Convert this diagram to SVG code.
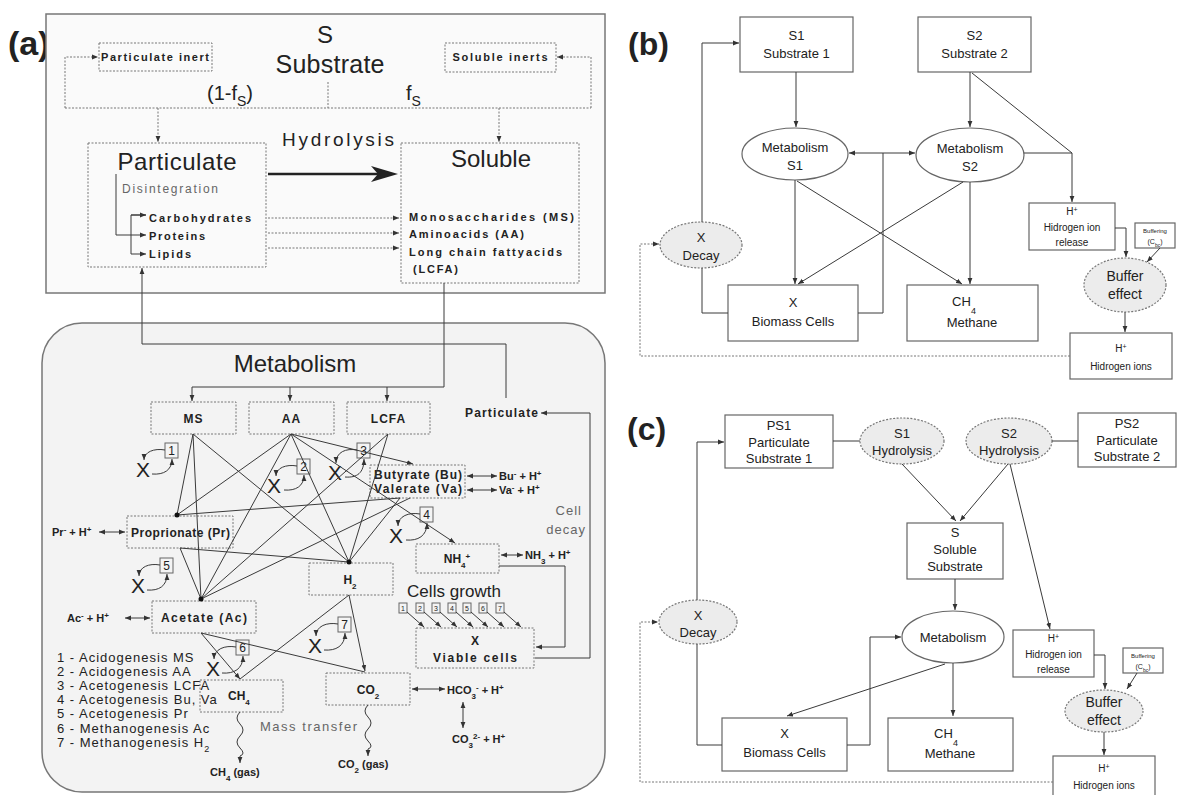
<svg xmlns="http://www.w3.org/2000/svg" width="1177" height="795" viewBox="0 0 1177 795">
<defs>
<style>
text{font-family:"Liberation Sans",Arial,sans-serif;fill:#222}
.b{font-weight:bold}
.c{text-anchor:middle}
.g{fill:#666}
.dot{fill:none;stroke:#777;stroke-width:1;stroke-dasharray:2 1.5}
.dbox{fill:none;stroke:#777;stroke-width:1;stroke-dasharray:2 1.5}
.ln{fill:none;stroke:#3a3a3a;stroke-width:1}
.box{fill:#fff;stroke:#666;stroke-width:1.2}
.ell{fill:#fff;stroke:#666;stroke-width:1.2}
.dell{fill:#ececec;stroke:#777;stroke-width:1.2;stroke-dasharray:2 1.5}
.nb{fill:#f4f4f4;stroke:#666;stroke-width:1}
.s13{font-size:13px}
.s10{font-size:10px}
</style>
<marker id="ah" viewBox="0 0 10 10" refX="10" refY="5" markerWidth="6" markerHeight="6" orient="auto-start-reverse"><path d="M0,1 L10,5 L0,9 z" fill="#333"/></marker>
</defs>
<rect width="1177" height="795" fill="#fff"/>

<!-- ===== Panel (a) ===== -->
<g id="panel-a">
<text x="8" y="55" font-size="34" class="b" fill="#111">(a)</text>
<rect x="46" y="14" width="559" height="279" fill="#fafafa" stroke="#777" stroke-width="1.5"/>
<rect x="42" y="323" width="563" height="469" rx="40" fill="#f3f3f3" stroke="#777" stroke-width="1.5"/>
</g>

<g id="substrate">
<text x="325" y="43" font-size="24" class="c">S</text>
<text x="330" y="73" font-size="25" class="c" textLength="109">Substrate</text>
<text x="207" y="100" font-size="20">(1-f<tspan font-size="14" baseline-shift="-6">S</tspan>)</text>
<text x="406" y="100" font-size="20">f<tspan font-size="14" baseline-shift="-6">S</tspan></text>
</g>
<g id="particulate-inert">
<rect x="99" y="43" width="113" height="28" class="dbox"/>
<text x="155" y="61" font-size="11" class="b c" textLength="108">Particulate inert</text>
</g>
<g id="soluble-inerts">
<rect x="445" y="43" width="111" height="29" class="dbox"/>
<text x="500" y="61" font-size="11" class="b c" textLength="95">Soluble inerts</text>
</g>
<g id="particulate">
<rect x="88" y="143" width="178" height="124" class="dbox"/>
<text x="177" y="170" font-size="24" class="c" textLength="119">Particulate</text>
<text x="122" y="193" font-size="12" class="g" textLength="96">Disintegration</text>
<text x="149" y="222" font-size="11" class="b" textLength="102">Carbohydrates</text>
<text x="149" y="240" font-size="11" class="b" textLength="56">Proteins</text>
<text x="149" y="258" font-size="11" class="b" textLength="42">Lipids</text>
<path class="ln" stroke="#555" d="M116,174 V235 H146" marker-end="url(#ah)"/>
<path class="ln" stroke="#555" d="M146,215 H131 V254 H146" marker-end="url(#ah)"/>
<path class="ln" stroke="#555" d="M131,215 H146" marker-end="url(#ah)"/>
</g>
<g id="soluble">
<rect x="401" y="143" width="178" height="140" class="dbox"/>
<text x="491" y="167" font-size="24" class="c">Soluble</text>
<text x="409" y="221" font-size="11" class="b" textLength="165">Monosaccharides (MS)</text>
<text x="409" y="238" font-size="11" class="b" textLength="115">Aminoacids (AA)</text>
<text x="409" y="256" font-size="11" class="b" textLength="153">Long chain fattyacids</text>
<text x="413" y="273" font-size="11" class="b" textLength="45">(LCFA)</text>
</g>
<g id="hydrolysis">
<text x="338" y="146" font-size="19" class="c" textLength="112">Hydrolysis</text>
<line x1="268" y1="174" x2="380" y2="174" stroke="#222" stroke-width="2.5"/>
<polygon points="398,174 371,166 378,174 371,182" fill="#222"/>
</g>

<g id="connectors-a-top">
<path class="dot" d="M328,82 V108"/>
<path class="dot" d="M65,108 H591"/>
<path class="dot" d="M65,108 V57 H98" marker-end="url(#ah)"/>
<path class="dot" d="M591,108 V57 H557" marker-end="url(#ah)"/>
<path class="dot" d="M158,108 V142" marker-end="url(#ah)"/>
<path class="dot" d="M499,108 V142" marker-end="url(#ah)"/>
<path class="dot" d="M268,218 H399" marker-end="url(#ah)"/>
<path class="dot" d="M268,233 H399" marker-end="url(#ah)"/>
<path class="dot" d="M268,248 H399" marker-end="url(#ah)"/>
<path class="ln" d="M506,398 V344 H142 V268" marker-end="url(#ah)"/>
<path class="ln" d="M444,283 V387 H192 V401" marker-end="url(#ah)"/>
<path class="ln" d="M290,387 V401" marker-end="url(#ah)"/>
<path class="ln" d="M387,387 V401" marker-end="url(#ah)"/>
</g>

<!-- Metabolism -->
<g id="metabolism-title"><text x="295" y="372" font-size="24" class="c">Metabolism</text></g>
<g id="ms"><rect x="151" y="402" width="85" height="32" class="dbox"/><text x="193.5" y="423" font-size="12" class="b c" letter-spacing="1">MS</text></g>
<g id="aa"><rect x="249" y="402" width="85" height="32" class="dbox"/><text x="291.5" y="423" font-size="12" class="b c" letter-spacing="1">AA</text></g>
<g id="lcfa"><rect x="347" y="402" width="83" height="32" class="dbox"/><text x="388.5" y="423" font-size="12" class="b c" letter-spacing="1">LCFA</text></g>
<g id="particulate-m"><text x="465" y="417" font-size="12" class="b" textLength="73">Particulate</text></g>
<g id="butyrate">
<rect x="370" y="465" width="95" height="33" class="dbox"/>
<text x="374" y="479" font-size="12" class="b" textLength="88">Butyrate (Bu)</text>
<text x="374" y="493" font-size="12" class="b" textLength="88">Valerate (Va)</text>
<text x="499" y="480" font-size="11" class="b">Bu<tspan font-size="8" baseline-shift="super">-</tspan> + H<tspan font-size="8" baseline-shift="super">+</tspan></text>
<text x="499" y="494" font-size="11" class="b">Va<tspan font-size="8" baseline-shift="super">-</tspan> + H<tspan font-size="8" baseline-shift="super">+</tspan></text>
</g>
<g id="cell-decay"><text x="582" y="515" font-size="13" class="g" text-anchor="end" letter-spacing="1">Cell</text><text x="586" y="534" font-size="13" class="g" text-anchor="end" letter-spacing="1">decay</text></g>
<g id="proprionate">
<rect x="127" y="516" width="106" height="32" class="dbox"/>
<text x="131" y="537" font-size="12" class="b" textLength="99">Proprionate (Pr)</text>
<text x="52" y="536" font-size="11" class="b">Pr<tspan font-size="8" baseline-shift="super">-</tspan> + H<tspan font-size="8" baseline-shift="super">+</tspan></text>
</g>
<g id="nh4">
<rect x="416" y="544" width="83" height="29" class="dbox"/>
<text x="457" y="563" font-size="12" class="b c">NH<tspan font-size="8" baseline-shift="sub">4</tspan><tspan font-size="8" baseline-shift="super">+</tspan></text>
<text x="525" y="559" font-size="11" class="b">NH<tspan font-size="8" baseline-shift="sub">3</tspan> + H<tspan font-size="8" baseline-shift="super">+</tspan></text>
</g>
<g id="h2"><rect x="309" y="563" width="84" height="32" class="dbox"/><text x="350" y="584" font-size="12" class="b c">H<tspan font-size="8" baseline-shift="sub">2</tspan></text></g>
<g id="cells-growth">
<text x="407" y="597" font-size="17" fill="#444" textLength="94">Cells growth</text>
<g font-size="7" class="c">
<rect x="399" y="603" width="8" height="10" class="nb"/><text x="403" y="611">1</text>
<rect x="416" y="603" width="8" height="10" class="nb"/><text x="420" y="611">2</text>
<rect x="432" y="603" width="8" height="10" class="nb"/><text x="436" y="611">3</text>
<rect x="448" y="603" width="8" height="10" class="nb"/><text x="452" y="611">4</text>
<rect x="463" y="603" width="8" height="10" class="nb"/><text x="467" y="611">5</text>
<rect x="479" y="603" width="8" height="10" class="nb"/><text x="483" y="611">6</text>
<rect x="496" y="603" width="8" height="10" class="nb"/><text x="500" y="611">7</text>
</g>
</g>
<g id="viable-cells"><rect x="416" y="628" width="118" height="40" class="dbox"/><text x="475" y="645" font-size="12" class="b c">X</text><text x="475" y="662" font-size="12" class="b c" textLength="84">Viable cells</text></g>
<g id="acetate">
<rect x="152" y="601" width="104" height="32" class="dbox"/>
<text x="204" y="622" font-size="12" class="b c" textLength="86">Acetate (Ac)</text>
<text x="67" y="622" font-size="11" class="b">Ac<tspan font-size="8" baseline-shift="super">-</tspan> + H<tspan font-size="8" baseline-shift="super">+</tspan></text>
</g>
<g id="ch4"><rect x="200" y="680" width="83" height="32" class="dbox"/><text x="228" y="700" font-size="12" class="b">CH<tspan font-size="8" baseline-shift="sub">4</tspan></text></g>
<g id="co2">
<rect x="326" y="673" width="84" height="32" class="dbox"/>
<text x="368" y="694" font-size="12" class="b c">CO<tspan font-size="8" baseline-shift="sub">2</tspan></text>
<text x="447" y="694" font-size="11" class="b">HCO<tspan font-size="8" baseline-shift="sub">3</tspan><tspan font-size="8" baseline-shift="super">-</tspan> + H<tspan font-size="8" baseline-shift="super">+</tspan></text>
<text x="452" y="743" font-size="11" class="b">CO<tspan font-size="8" baseline-shift="sub">3</tspan><tspan font-size="8" baseline-shift="super">2-</tspan> + H<tspan font-size="8" baseline-shift="super">+</tspan></text>
</g>
<g id="gas">
<text x="210" y="776" font-size="11" class="b">CH<tspan font-size="8" baseline-shift="sub">4</tspan> (gas)</text>
<text x="338" y="768" font-size="11" class="b">CO<tspan font-size="8" baseline-shift="sub">2</tspan> (gas)</text>
<text x="260" y="731" font-size="13" class="g" textLength="97">Mass transfer</text>
</g>
<g id="legend" font-size="13" letter-spacing="1">
<text x="57" y="662" fill="#555">1 - Acidogenesis MS</text>
<text x="57" y="676" fill="#555">2 - Acidogenesis AA</text>
<text x="57" y="690" fill="#555">3 - Acetogenesis LCFA</text>
<text x="57" y="704" fill="#555">4 - Acetogenesis Bu, Va</text>
<text x="57" y="718" fill="#555">5 - Acetogenesis Pr</text>
<text x="57" y="733" fill="#555">6 - Methanogenesis Ac</text>
<text x="57" y="747" fill="#555">7 - Methanogenesis H<tspan font-size="9" baseline-shift="sub">2</tspan></text>
</g>

<!-- X cycles -->
<g id="cycles">
<g font-size="12" class="c">
<rect x="165" y="443" width="13" height="15" class="nb"/><text x="171.5" y="455">1</text>
<rect x="297" y="459" width="13" height="15" class="nb"/><text x="303.5" y="471">2</text>
<rect x="357" y="443" width="13" height="15" class="nb"/><text x="363.5" y="455">3</text>
<rect x="420" y="507" width="13" height="15" class="nb"/><text x="426.5" y="519">4</text>
<rect x="160" y="558" width="13" height="15" class="nb"/><text x="166.5" y="570">5</text>
<rect x="236" y="640" width="13" height="15" class="nb"/><text x="242.5" y="652">6</text>
<rect x="338" y="617" width="13" height="15" class="nb"/><text x="344.5" y="629">7</text>
</g>
<g font-size="21" class="c">
<text x="143" y="477">X</text>
<text x="274" y="493">X</text>
<text x="335" y="480">X</text>
<text x="396" y="543">X</text>
<text x="138" y="593">X</text>
<text x="213" y="676">X</text>
<text x="315" y="653">X</text>
</g>
<g class="ln">
<path d="M165,450 C154,448 144,452 144,460" marker-end="url(#ah)"/><path d="M152,474 C164,475 172,470 172,459" marker-end="url(#ah)"/>
<path d="M297,466 C286,464 276,468 276,476" marker-end="url(#ah)"/><path d="M284,490 C296,491 304,486 304,475" marker-end="url(#ah)"/>
<path d="M357,450 C346,448 336,452 336,463" marker-end="url(#ah)"/><path d="M345,477 C357,478 364,473 364,459" marker-end="url(#ah)"/>
<path d="M420,514 C409,512 398,516 398,526" marker-end="url(#ah)"/><path d="M406,540 C418,541 427,536 427,523" marker-end="url(#ah)"/>
<path d="M160,565 C149,563 139,567 139,576" marker-end="url(#ah)"/><path d="M147,590 C159,591 167,586 167,574" marker-end="url(#ah)"/>
<path d="M236,647 C225,645 214,649 214,659" marker-end="url(#ah)"/><path d="M222,673 C234,674 243,669 243,656" marker-end="url(#ah)"/>
<path d="M338,624 C327,622 316,626 316,636" marker-end="url(#ah)"/><path d="M324,650 C336,651 345,646 345,633" marker-end="url(#ah)"/>
</g>
</g>

<!-- metabolism network connectors -->
<g id="connectors-a-metabolism" class="ln">
<path d="M193,434 L177,515"/>
<path d="M193,434 L201,599"/>
<path d="M193,434 L349,562"/>
<path d="M291,434 L177,515"/>
<path d="M291,434 L201,599"/>
<path d="M291,434 L349,562"/>
<path d="M291,434 L413,464" marker-end="url(#ah)"/>
<path d="M291,434 L455,543" marker-end="url(#ah)"/>
<path d="M388,434 L201,599"/>
<path d="M388,434 L349,562"/>
<path d="M400,498 L177,515"/>
<path d="M410,498 L201,599"/>
<path d="M400,498 L349,562"/>
<path d="M180,548 L201,599"/>
<path d="M180,548 L349,562"/>
<path d="M201,633 L240,679" marker-end="url(#ah)"/>
<path d="M201,633 L365,672"/>
<path d="M349,595 L240,679"/>
<path d="M349,595 L365,671" marker-end="url(#ah)"/>
<path d="M467,476 H497" marker-start="url(#ah)" marker-end="url(#ah)"/>
<path d="M467,490 H497" marker-start="url(#ah)" marker-end="url(#ah)"/>
<path d="M99,532 H125" marker-start="url(#ah)" marker-end="url(#ah)"/>
<path d="M125,618 H150" marker-start="url(#ah)" marker-end="url(#ah)"/>
<path d="M501,555 H523" marker-start="url(#ah)" marker-end="url(#ah)"/>
<path d="M412,689 H445" marker-start="url(#ah)" marker-end="url(#ah)"/>
<path d="M463,702 V728" marker-start="url(#ah)" marker-end="url(#ah)"/>
<path d="M499,566 H565 V647 H536" marker-end="url(#ah)"/>
<path d="M535,658 H590 V413 H541" marker-end="url(#ah)"/>
<path d="M407,612 L424,627" marker-end="url(#ah)"/>
<path d="M424,612 L441,627" marker-end="url(#ah)"/>
<path d="M440,612 L457,627" marker-end="url(#ah)"/>
<path d="M456,612 L473,627" marker-end="url(#ah)"/>
<path d="M471,612 L488,627" marker-end="url(#ah)"/>
<path d="M487,612 L504,627" marker-end="url(#ah)"/>
<path d="M504,612 L521,627" marker-end="url(#ah)"/>
<path d="M240,712 q-6,6 0,12 t0,12 t0,12 t0,8 V763" marker-end="url(#ah)"/>
<path d="M368,705 q-6,6 0,12 t0,12 t0,12 t0,8 V756" marker-end="url(#ah)"/>
<circle cx="177" cy="515" r="2.5" fill="#111" stroke="none"/>
<circle cx="201" cy="599" r="2.5" fill="#111" stroke="none"/>
<circle cx="349" cy="562" r="2.5" fill="#111" stroke="none"/>
</g>

<!-- ===== Panel (b) ===== -->
<g id="label-b"><text x="628" y="55" font-size="32" class="b" fill="#111">(b)</text></g>
<g id="b-s1"><rect x="740" y="17" width="113" height="55" class="box"/><text x="796.5" y="40" class="s13 c">S1</text><text x="796.5" y="58" class="s13 c">Substrate 1</text></g>
<g id="b-s2"><rect x="918" y="17" width="113" height="55" class="box"/><text x="974.5" y="40" class="s13 c">S2</text><text x="974.5" y="58" class="s13 c">Substrate 2</text></g>
<g id="b-met1"><ellipse cx="795" cy="154" rx="53" ry="26" class="ell"/><text x="795" y="152" class="s13 c">Metabolism</text><text x="795" y="170" class="s13 c">S1</text></g>
<g id="b-met2"><ellipse cx="970" cy="155" rx="54" ry="27" class="ell"/><text x="970" y="153" class="s13 c">Metabolism</text><text x="970" y="171" class="s13 c">S2</text></g>
<g id="b-decay"><ellipse cx="701" cy="245" rx="41" ry="23" class="dell"/><text x="701" y="242" class="s13 c">X</text><text x="701" y="260" class="s13 c">Decay</text></g>
<g id="b-biomass"><rect x="728" y="285" width="130" height="56" class="box"/><text x="793" y="307" class="s13 c">X</text><text x="793" y="326" class="s13 c">Biomass Cells</text></g>
<g id="b-ch4"><rect x="907" y="285" width="131" height="56" class="box"/><text x="964" y="306" class="s13 c">CH<tspan font-size="9" baseline-shift="-8">4</tspan></text><text x="972" y="327" class="s13 c">Methane</text></g>
<g id="b-hrel"><rect x="1029" y="203" width="86" height="47" class="box"/><text x="1072" y="215" class="s10 c">H<tspan font-size="7" baseline-shift="super">+</tspan></text><text x="1072" y="231" class="s10 c">Hidrogen ion</text><text x="1072" y="246" class="s10 c">release</text></g>
<g id="b-buffering"><rect x="1135" y="223" width="40" height="25" class="box"/><text x="1155" y="233" font-size="6" class="c">Buffering</text><text x="1155" y="244" font-size="7" class="c">(C<tspan font-size="5" baseline-shift="sub">bc</tspan>)</text></g>
<g id="b-buffer"><ellipse cx="1125" cy="285" rx="41" ry="27" class="dell"/><text x="1125" y="281" font-size="14" class="c">Buffer</text><text x="1125" y="299" font-size="14" class="c">effect</text></g>
<g id="b-hions"><rect x="1070" y="333" width="102" height="46" class="box"/><text x="1121" y="352" class="s10 c">H<tspan font-size="7" baseline-shift="super">+</tspan></text><text x="1121" y="370" class="s10 c">Hidrogen ions</text></g>

<g id="connectors-b" class="ln">
<path d="M796,72 V127" marker-end="url(#ah)"/>
<path d="M970,72 V127" marker-end="url(#ah)"/>
<path d="M972,73 L1072,153 V202" marker-end="url(#ah)"/>
<path d="M1024,153 H1072"/>
<path d="M1115,228 H1126 V257" marker-end="url(#ah)"/>
<path d="M1160,248 L1147,262" marker-end="url(#ah)"/>
<path d="M1125,312 V332" marker-end="url(#ah)"/>
<path d="M1070,356 H640 V244 H659" class="dot" stroke="#888" marker-end="url(#ah)"/>
<path d="M702,222 V43 H739" marker-end="url(#ah)"/>
<path d="M702,268 V313 H728"/>
<path d="M858,313 H883 V153 H849" marker-end="url(#ah)"/>
<path d="M883,153 H915" marker-end="url(#ah)"/>
<path d="M795,180 V284" marker-end="url(#ah)"/>
<path d="M797,181 L962,284" marker-end="url(#ah)"/>
<path d="M963,182 L798,284" marker-end="url(#ah)"/>
<path d="M970,182 V284" marker-end="url(#ah)"/>
</g>

<!-- ===== Panel (c) ===== -->
<g id="label-c"><text x="627" y="440" font-size="32" class="b" fill="#111">(c)</text></g>
<g id="c-ps1"><rect x="725" y="415" width="108" height="53" class="box"/><text x="779" y="430" class="s13 c">PS1</text><text x="779" y="447" class="s13 c">Particulate</text><text x="779" y="463" class="s13 c">Substrate 1</text></g>
<g id="c-hyd1"><ellipse cx="902" cy="441" rx="42" ry="23" class="dell"/><text x="902" y="438" class="s13 c">S1</text><text x="902" y="455" class="s13 c">Hydrolysis</text></g>
<g id="c-hyd2"><ellipse cx="1009" cy="441" rx="43" ry="23" class="dell"/><text x="1009" y="438" class="s13 c">S2</text><text x="1009" y="455" class="s13 c">Hydrolysis</text></g>
<g id="c-ps2"><rect x="1078" y="413" width="98" height="54" class="box"/><text x="1127" y="428" class="s13 c">PS2</text><text x="1127" y="445" class="s13 c">Particulate</text><text x="1127" y="461" class="s13 c">Substrate 2</text></g>
<g id="c-s"><rect x="907" y="523" width="96" height="56" class="box"/><text x="955" y="537" class="s13 c">S</text><text x="955" y="554" class="s13 c">Soluble</text><text x="955" y="571" class="s13 c">Substrate</text></g>
<g id="c-met"><ellipse cx="953" cy="637" rx="51" ry="26" class="ell"/><text x="953" y="642" class="s13 c">Metabolism</text></g>
<g id="c-ch4"><rect x="888" y="718" width="125" height="53" class="box"/><text x="946" y="738" class="s13 c">CH<tspan font-size="9" baseline-shift="-8">4</tspan></text><text x="950" y="758" class="s13 c">Methane</text></g>
<g id="c-biomass"><rect x="722" y="718" width="125" height="53" class="box"/><text x="784.5" y="738" class="s13 c">X</text><text x="784.5" y="757" class="s13 c">Biomass Cells</text></g>
<g id="c-decay"><ellipse cx="698" cy="622" rx="39" ry="22" class="dell"/><text x="698" y="620" class="s13 c">X</text><text x="698" y="637" class="s13 c">Decay</text></g>
<g id="c-hrel"><rect x="1013" y="630" width="81" height="47" class="box"/><text x="1053.5" y="642" class="s10 c">H<tspan font-size="7" baseline-shift="super">+</tspan></text><text x="1053.5" y="658" class="s10 c">Hidrogen ion</text><text x="1053.5" y="673" class="s10 c">release</text></g>
<g id="c-buffering"><rect x="1123" y="648" width="40" height="25" class="box"/><text x="1143" y="658" font-size="6" class="c">Buffering</text><text x="1143" y="669" font-size="7" class="c">(C<tspan font-size="5" baseline-shift="sub">bc</tspan>)</text></g>
<g id="c-buffer"><ellipse cx="1104" cy="711" rx="39" ry="21" class="dell"/><text x="1104" y="707" font-size="14" class="c">Buffer</text><text x="1104" y="725" font-size="14" class="c">effect</text></g>
<g id="c-hions"><rect x="1053" y="756" width="102" height="44" class="box"/><text x="1104" y="772" class="s10 c">H<tspan font-size="7" baseline-shift="super">+</tspan></text><text x="1104" y="789" class="s10 c">Hidrogen ions</text></g>

<g id="connectors-c" class="ln">
<path d="M833,441 H860"/>
<path d="M1052,441 H1078"/>
<path d="M902,464 L956,521" marker-end="url(#ah)"/>
<path d="M1008,464 L960,521" marker-end="url(#ah)"/>
<path d="M1010,464 L1050,629" marker-end="url(#ah)"/>
<path d="M955,579 V610" marker-end="url(#ah)"/>
<path d="M953,663 V716" marker-end="url(#ah)"/>
<path d="M945,664 L787,716" marker-end="url(#ah)"/>
<path d="M847,745 H870 V637 H901" marker-end="url(#ah)"/>
<path d="M697,600 V442 H724" marker-end="url(#ah)"/>
<path d="M697,644 V745 H722"/>
<path d="M1053,782 H640 V622 H658" class="dot" stroke="#888" marker-end="url(#ah)"/>
<path d="M1094,655 H1105 V689" marker-end="url(#ah)"/>
<path d="M1137,673 L1127,689" marker-end="url(#ah)"/>
<path d="M1104,732 V755" marker-end="url(#ah)"/>
</g>
</svg>
